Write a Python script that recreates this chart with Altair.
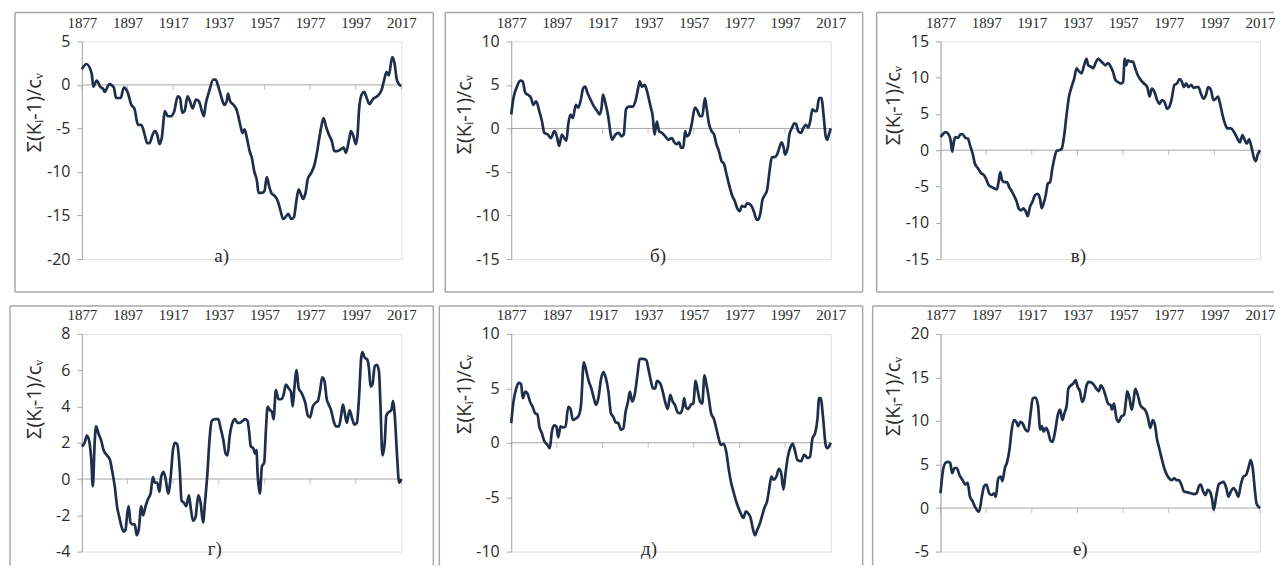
import altair as alt
import pandas as pd

YEAR_TICKS = [1877, 1897, 1917, 1937, 1957, 1977, 1997, 2017]
Y_TITLE = "Σ(Kᵢ-1)/cᵥ"
PANEL_LABELS = ["а)", "б)", "в)", "г)", "д)", "е)"]
Y_DOMAINS = [[-20, 5], [-15, 10], [-15, 15], [-4, 8], [-10, 10], [-5, 20]]
Y_STEPS = [5, 5, 5, 2, 5, 5]

A_YEARS = [1877, 1879, 1881.3, 1882, 1883.5, 1885, 1886.4, 1887, 1889, 1891,
           1892, 1894, 1895.4, 1897, 1898.7, 1900, 1901.6, 1903, 1904.5, 1905.6,
           1906.6, 1908, 1909, 1910, 1911, 1912, 1913.4, 1914.6, 1916, 1917.5,
           1919, 1920, 1921, 1922, 1923.3, 1924.4, 1925.5, 1927, 1928.3, 1929.8,
           1930.5, 1931.2, 1932.7, 1934.6, 1935.6, 1937, 1938, 1939.5, 1940.6, 1941,
           1942, 1943.5, 1945, 1946.4, 1947.4, 1948.3, 1949.3, 1950.5, 1951.5, 1952.5,
           1953.7, 1954.4, 1955.8, 1957, 1958, 1959.2, 1960.2, 1961.3, 1962.8, 1964,
           1965.2, 1966.2, 1967.4, 1968.8, 1969.9, 1971, 1972, 1972.9, 1973.9, 1975,
           1976, 1977.5, 1979, 1980, 1980.8, 1981.9, 1982.9, 1984, 1985.2, 1986.6,
           1987.6, 1989, 1990.5, 1991.7, 1992.7, 1994.2, 1994.9, 1996, 1997, 1997.8,
           1998.5, 1999.6, 2000.7, 2001.8, 2003, 2004.6, 2006.4, 2008.3, 2009.3, 2010.5,
           2011.5, 2013, 2014, 2015, 2016.2, 2017]
A_VALUES = [1.8, 2.4, 1.3, -0.2, 0.5, -0.2, -0.5, -0.8, 0.1, -0.3,
            -1.5, -1.5, -0.3, -0.8, -2.3, -2.7, -4.6, -4.6, -5.7, -6.7,
            -6.7, -5.7, -5.3, -5.7, -6.8, -6.1, -3.0, -3.6, -3.6, -3.0,
            -1.3, -1.5, -3.2, -3.0, -1.3, -1.9, -2.7, -1.7, -1.9, -3.2,
            -3.6, -2.3, -0.8, 0.6, 0.6, -0.4, -1.3, -2.3, -1.7, -1.0,
            -1.9, -2.3, -3.0, -4.6, -5.5, -5.1, -6.1, -7.6, -8.4, -9.9,
            -11.0, -12.4, -12.4, -12.2, -10.6, -11.8, -12.5, -12.7, -13.3, -14.4,
            -15.4, -15.2, -14.8, -15.4, -15.2, -13.3, -12.0, -12.5, -13.1, -12.4,
            -10.8, -10.1, -9.1, -7.8, -6.5, -4.8, -3.8, -4.8, -5.7, -6.5,
            -7.6, -7.6, -7.4, -7.2, -7.8, -6.1, -5.3, -5.9, -6.8, -5.7,
            -2.7, -1.1, -0.8, -1.5, -2.2, -1.6, -1.3, -0.6, 0.4, 1.5,
            1.1, 3.2, 2.5, 0.6, 0.0, -0.1]

B_YEARS = [1877, 1878, 1879.5, 1881, 1882, 1883.2, 1884.7, 1885.7, 1886.7, 1887.9,
           1889.3, 1890.5, 1891.5, 1893, 1894.4, 1895.9, 1897, 1898, 1899.2, 1900.2,
           1901.2, 1902, 1903, 1904, 1905.3, 1906.4, 1907.5, 1908.5, 1909.4, 1910.4,
           1911.8, 1913.3, 1914.7, 1915.7, 1916.6, 1917.2, 1918.3, 1919.5, 1920.5, 1921.2,
           1922.7, 1924.1, 1925.3, 1926.3, 1927.3, 1928.5, 1930.2, 1931.4, 1932.6, 1933.3,
           1934.3, 1935.5, 1936.5, 1937.9, 1939, 1939.8, 1940.8, 1941.8, 1943, 1944.5,
           1945.9, 1947.4, 1948.5, 1949.5, 1950.6, 1951.4, 1952.4, 1953.2, 1953.9, 1954.9,
           1956.1, 1957.5, 1958.7, 1959.7, 1960.7, 1961.9, 1962.6, 1963.6, 1964.8, 1965.9,
           1966.9, 1968, 1969.1, 1970.3, 1971.3, 1972.8, 1973.8, 1974.9, 1976.1, 1977.1,
           1978.1, 1979.3, 1980.4, 1981.5, 1982.5, 1983.4, 1984.4, 1985.1, 1986.3, 1987,
           1988, 1989.1, 1990.2, 1991.2, 1992.3, 1993.5, 1994.5, 1995.5, 1996.4, 1997,
           1998.2, 1998.9, 2000.1, 2001, 2001.8, 2002.8, 2004, 2005.1, 2006.1, 2007.2,
           2008, 2009, 2010, 2010.9, 2011.9, 2012.9, 2014, 2014.8, 2015.5, 2016.2,
           2017]
B_VALUES = [1.6, 3.5, 4.8, 5.5, 5.4, 4.1, 3.8, 3.5, 2.7, 3.1,
            2.0, 0.8, -0.5, -0.7, -1.1, -0.3, -0.9, -2.0, -0.7, -1.1,
            -1.4, 0.5, 1.6, 1.2, 2.7, 2.4, 3.3, 4.6, 4.8, 4.1,
            3.3, 2.5, 2.0, 1.6, 2.4, 3.9, 2.9, 1.4, -0.5, -1.3,
            -0.7, -0.5, -0.9, -0.7, 2.2, 2.5, 2.5, 3.1, 4.6, 5.4,
            4.8, 5.0, 4.3, 2.7, 1.4, -0.7, 0.8, -0.3, -0.5, -0.9,
            -1.3, -1.1, -1.6, -1.8, -1.6, -2.2, -2.2, -0.3, -0.9, -0.7,
            0.5, 2.4, 2.0, 1.4, 1.4, 3.5, 2.4, 0.6, -0.3, -0.7,
            -1.8, -2.6, -3.7, -4.1, -5.2, -6.8, -7.7, -8.3, -9.2, -9.5,
            -8.9, -9.0, -8.6, -8.7, -9.0, -9.6, -10.4, -10.5, -9.6, -8.3,
            -7.7, -7.1, -4.9, -3.3, -3.3, -3.0, -2.2, -1.6, -2.2, -3.0,
            -2.2, -0.7, 0.1, 0.6, 0.5, -0.3, -0.5, 0.1, 0.4, 0.1,
            0.8, 2.2, 2.0, 2.0, 3.5, 3.5, 1.2, -0.9, -1.3, -0.7,
            0.0]

C_YEARS = [1877, 1878, 1879.2, 1880.3, 1881.4, 1882.1, 1882.8, 1883.5, 1884.7, 1885.7,
           1886.7, 1887.9, 1889, 1890, 1891.1, 1892, 1893.4, 1894.9, 1895.9, 1896.9,
           1898.1, 1899.5, 1900.7, 1901.7, 1902.4, 1903.2, 1903.9, 1905.1, 1906.1, 1907.1,
           1908.3, 1909.4, 1910.4, 1911.2, 1912.3, 1913.3, 1914.4, 1915.2, 1916.2, 1917.3,
           1918.4, 1919.6, 1920.6, 1921.3, 1922.1, 1923.1, 1924, 1925, 1926, 1926.9,
           1927.9, 1928.9, 1930.1, 1931.2, 1932.2, 1933.3, 1934.4, 1935.6, 1936.6, 1937.6,
           1938.8, 1939.9, 1941, 1941.7, 1942.9, 1943.9, 1944.9, 1946.1, 1947.2, 1948.2,
           1949.2, 1950.4, 1951.6, 1952.6, 1953.6, 1954.8, 1955.9, 1957, 1957.7, 1958.4,
           1959.1, 1960.3, 1961.3, 1962.3, 1963.5, 1964.7, 1966.1, 1967.6, 1968.6, 1969.6,
           1970.8, 1971.9, 1972.9, 1974, 1975.1, 1976.3, 1977.3, 1978.3, 1979.5, 1980.6,
           1981.7, 1982.7, 1983.6, 1984.6, 1985.6, 1986.8, 1987.9, 1989, 1990, 1991.1,
           1992.3, 1993.3, 1994.3, 1995.5, 1996.6, 1997.6, 1998.6, 1999.5, 2000.6, 2001.6,
           2002.7, 2004.2, 2005.6, 2006.8, 2008.2, 2009.3, 2010.3, 2011.2, 2012.2, 2013.2,
           2014.4, 2015.1, 2016.1, 2017]
C_VALUES = [1.8, 2.2, 2.5, 2.3, 1.4, -0.2, 1.1, 1.8, 1.7, 2.2,
            2.2, 1.7, 1.6, 0.6, -0.5, -1.8, -2.5, -3.2, -3.4, -3.9,
            -4.8, -5.1, -5.3, -5.4, -4.4, -3.0, -4.1, -4.4, -4.4, -5.1,
            -5.7, -6.4, -7.1, -8.0, -8.3, -8.0, -8.5, -9.1, -7.8, -7.1,
            -6.2, -6.0, -6.7, -8.0, -7.4, -6.2, -4.6, -4.4, -2.5, -1.1,
            -0.1, 0.0, 0.2, 2.1, 4.8, 7.4, 8.7, 9.9, 11.3, 10.9,
            10.6, 11.7, 12.6, 11.7, 11.5, 11.3, 12.0, 12.6, 12.3, 12.0,
            11.7, 12.0, 11.5, 10.8, 9.7, 9.4, 9.2, 9.4, 12.6, 11.7,
            12.4, 12.2, 12.2, 11.3, 10.3, 9.7, 9.2, 8.7, 7.4, 8.5,
            8.0, 6.9, 6.4, 6.9, 6.7, 5.7, 6.0, 7.1, 9.0, 9.2,
            9.8, 9.5, 8.7, 9.2, 8.7, 9.0, 8.6, 8.7, 8.7, 7.8,
            7.1, 7.6, 8.7, 8.3, 6.9, 7.1, 7.4, 6.4, 4.8, 3.7,
            3.0, 3.0, 2.5, 1.8, 1.1, 2.1, 1.4, 0.9, 1.5, 0.5,
            -1.1, -1.5, -0.5, 0.0]

D_YEARS = [1877, 1878.2, 1879.2, 1880.2, 1881.1, 1881.8, 1882.6, 1883.2, 1884.3, 1885.5,
           1886.5, 1888, 1889.2, 1890.2, 1891.4, 1892.4, 1893.4, 1894.3, 1895.3, 1896.1,
           1896.9, 1897.5, 1898.3, 1899.3, 1900.2, 1901, 1901.9, 1903, 1903.8, 1904.9,
           1906, 1907.1, 1908.1, 1909, 1910, 1911, 1911.7, 1912.8, 1913.7, 1914.8,
           1915.9, 1916.9, 1917.8, 1918.8, 1919.8, 1920.7, 1921.7, 1922.7, 1923.9, 1924.6,
           1925.7, 1926.8, 1928, 1929, 1930.1, 1931, 1932, 1933, 1933.9, 1935.4,
           1936.8, 1937.8, 1938.9, 1940, 1940.8, 1941.8, 1943, 1944.1, 1945.2, 1946.2,
           1947.4, 1948.5, 1949.6, 1950.3, 1951, 1952.1, 1952.9, 1953.5, 1954, 1955,
           1955.9, 1956.9, 1957.6, 1958.4, 1959.4, 1960.3, 1961, 1962, 1963.2, 1964.2,
           1965.3, 1966.4, 1967.6, 1968.6, 1969.4, 1970.1, 1971.1, 1972, 1973, 1974.1,
           1974.9, 1976, 1977, 1978.2, 1979.3, 1980.4, 1981.4, 1982.3, 1983.3, 1984.3,
           1985.2, 1986.2, 1987.3, 1988.4, 1989.6, 1990.6, 1991.4, 1992.1, 1993.1, 1994.3,
           1995.5, 1996.5, 1997.5, 1998.4, 1999.4, 1999.9, 2000.9, 2002, 2002.8, 2003.5,
           2004.3, 2005.3, 2006.3, 2007.2, 2007.8, 2008.7, 2009.7, 2010.4, 2011.6, 2012.6,
           2013.3, 2014.1, 2015.1, 2016, 2017]
D_VALUES = [1.8, 2.0, 2.4, 2.1, 1.1, -0.4, 2.0, 2.9, 2.5, 2.1,
            1.6, 1.3, 1.1, 0.5, -0.4, -1.5, -2.1, -2.6, -2.9, -2.8,
            -1.9, -1.5, -2.4, -2.5, -2.5, -3.1, -2.8, -1.5, -2.0, -1.5,
            -1.1, -0.8, 0.1, -0.2, -0.2, -0.7, 0.1, 0.4, 0.0, -0.8,
            0.1, 1.6, 2.0, 1.9, 0.7, -1.2, -1.3, -1.5, -0.9, -1.5,
            -2.3, -2.1, -0.9, -1.3, -2.4, -1.2, 0.3, 2.3, 3.2, 3.3,
            3.3, 2.8, 2.2, 1.4, 1.3, 2.4, 3.1, 3.3, 3.1, 3.1,
            3.2, 3.3, 3.2, 2.6, 1.8, 1.7, 1.4, 1.6, 0.3, -0.8,
            0.7, 0.9, 2.6, 4.0, 3.8, 3.7, 3.3, 4.9, 4.4, 4.4,
            4.6, 5.2, 5.0, 4.8, 4.0, 5.0, 6.0, 5.0, 4.8, 4.5,
            4.2, 3.5, 3.4, 4.0, 4.2, 4.3, 4.9, 5.6, 5.4, 4.4,
            4.1, 3.8, 3.2, 2.9, 2.9, 3.5, 4.1, 3.7, 3.1, 3.8,
            3.3, 3.0, 3.1, 4.4, 6.7, 7.0, 6.7, 6.6, 6.1, 5.1,
            5.2, 6.2, 6.3, 5.9, 4.2, 1.3, 2.0, 3.5, 3.7, 3.8,
            4.3, 3.5, 1.3, -0.2, 0.0]

E_YEARS = [1877, 1878, 1879.2, 1880.3, 1881.3, 1882.1, 1883.2, 1884.2, 1885.2, 1886.4,
           1887.5, 1888.5, 1889.3, 1890.4, 1891.4, 1892.9, 1893.9, 1894.8, 1895.8, 1896.8,
           1897.6, 1898.6, 1899.7, 1900.8, 1902, 1903, 1904, 1905.1, 1906.6, 1907.6,
           1908.8, 1909.8, 1910.9, 1912.1, 1913.1, 1914.1, 1915.2, 1916.4, 1917.4, 1918.4,
           1919.6, 1920.7, 1921.7, 1922.7, 1923.9, 1925.1, 1926.1, 1927.1, 1928.2, 1929,
           1930, 1931.1, 1932.3, 1933.3, 1934.7, 1936.2, 1937.2, 1938.3, 1939.1, 1940.1,
           1940.9, 1942.4, 1943.4, 1944.4, 1945.6, 1946.7, 1947.7, 1948.7, 1949.9, 1951,
           1952, 1952.8, 1953.5, 1954.5, 1955.7, 1956.8, 1957.8, 1958.8, 1959.7, 1960.7,
           1961.7, 1962.6, 1963.6, 1964.6, 1965.8, 1966.9, 1967.9, 1968.9, 1970.1, 1971.2,
           1972.3, 1973.3, 1974.4, 1975.6, 1976.6, 1977.6, 1978.7, 1979.9, 1980.9, 1981.9,
           1982.8, 1983.8, 1984.8, 1986, 1987.1, 1988.1, 1989.1, 1990, 1991, 1992,
           1993.2, 1994.3, 1995.3, 1996.3, 1997.2, 1998.2, 1999.2, 2000.4, 2001.4, 2002.5,
           2004, 2005.4, 2006.9, 2007.9, 2009, 2010.2, 2011.2, 2011.9, 2012.6, 2013.7,
           2014.8, 2015.5, 2017]
E_VALUES = [1.8, 3.8, 5.0, 5.5, 5.4, 4.1, 4.7, 4.5, 3.8, 3.3,
            2.7, 2.6, 1.5, 0.9, 0.2, -0.2, -0.5, 1.0, 1.6, 1.5,
            0.5, 1.5, 1.4, 1.5, 3.3, 3.1, 2.1, 2.2, 2.5, 3.5,
            7.4, 6.7, 5.7, 5.0, 4.2, 3.5, 4.1, 5.9, 6.5, 6.0,
            4.7, 2.7, 2.4, 1.9, 1.8, 1.2, 1.3, 2.8, 3.8, 4.7,
            3.8, 4.4, 6.2, 7.7, 7.7, 7.6, 6.7, 5.6, 5.0, 5.0,
            5.7, 5.4, 4.7, 3.8, 3.1, 4.4, 3.8, 3.5, 2.8, 2.7,
            3.1, 4.1, 3.3, 3.1, 3.5, 3.6, 5.7, 4.7, 3.8, 3.6,
            6.2, 5.3, 4.1, 2.7, 2.2, 1.3, 0.4, -0.2, -0.1, -0.8,
            -2.4, -3.6, -4.5, -5.4, -6.0, -6.5, -6.9, -6.3, -6.5, -6.9,
            -7.8, -8.5, -8.0, -7.4, -6.6, -5.9, -5.4, -4.3, -3.1, -3.4,
            -3.1, -2.4, -2.8, -4.3, -2.8, -1.3, -0.5, -0.1, -0.8, -1.6,
            -1.7, -1.1, -1.4, -1.3, 0.4, 0.9, 2.2, 4.1, 4.1, 2.2,
            -0.2, -0.5, 0.0]

F_YEARS = [1877, 1878, 1879.2, 1880.2, 1881.2, 1882.1, 1883.1, 1884.1, 1885.3, 1886.7,
           1887.9, 1888.9, 1889.9, 1891, 1892.2, 1893.2, 1893.9, 1895.1, 1896.1, 1897.1,
           1898.3, 1899.4, 1900.5, 1901.2, 1902.3, 1903.4, 1904.1, 1905.2, 1906.2, 1907.3,
           1908.1, 1909.1, 1910.2, 1911, 1912, 1913, 1914.2, 1915.4, 1916.4, 1917.4,
           1918.6, 1919.7, 1920.7, 1921.4, 1922.2, 1923.2, 1924.1, 1925.1, 1926.1, 1927.2,
           1928.4, 1929.4, 1930.4, 1931.3, 1932.3, 1933, 1934.2, 1935.2, 1936.2, 1937.1,
           1938.1, 1939.1, 1939.9, 1941, 1942, 1943.2, 1944.3, 1945.3, 1946.4, 1947.2,
           1948.3, 1949.2, 1950.4, 1951.6, 1952.1, 1953, 1954.1, 1955.1, 1956.2, 1957.4,
           1958.4, 1958.8, 1959.8, 1960.8, 1961.7, 1962.3, 1963.4, 1964.6, 1965.6, 1966.6,
           1967.8, 1968.9, 1970, 1971, 1971.8, 1972.8, 1973.9, 1975, 1976.2, 1977.2,
           1978.2, 1979.4, 1980.5, 1981.5, 1982.5, 1983.7, 1985.2, 1986.6, 1988, 1989.2,
           1990.2, 1991, 1992.1, 1993.1, 1994.1, 1995, 1996, 1996.7, 1997.9, 1998.9,
           1999.9, 2001, 2002.2, 2003.2, 2004.2, 2005.4, 2006.5, 2007.5, 2008.6, 2009.7,
           2010.9, 2011.9, 2012.9, 2013.8, 2014.8, 2015.5, 2017]
F_VALUES = [1.7, 4.2, 5.2, 5.3, 5.2, 4.0, 4.6, 4.6, 3.8, 3.2,
            2.7, 2.9, 1.3, 0.8, 0.1, -0.3, -0.4, 1.3, 2.5, 2.7,
            1.7, 1.5, 1.7, 1.3, 3.4, 3.6, 3.1, 4.6, 5.3, 6.9,
            8.8, 10.1, 9.9, 9.4, 9.9, 9.7, 9.0, 8.8, 10.7, 12.6,
            12.7, 11.8, 9.0, 9.4, 8.8, 9.2, 8.8, 7.8, 7.6, 8.8,
            10.7, 11.3, 10.1, 10.9, 11.8, 13.7, 14.1, 14.3, 14.7, 13.9,
            13.4, 12.2, 12.6, 14.1, 14.5, 14.4, 14.1, 13.7, 13.4, 14.1,
            13.7, 13.0, 12.0, 11.8, 11.3, 12.0, 10.3, 9.9, 10.5, 10.7,
            12.6, 13.4, 12.6, 11.3, 12.6, 13.7, 13.0, 11.8, 11.5, 11.3,
            10.5, 9.2, 10.1, 9.5, 8.0, 6.9, 5.7, 4.6, 3.8, 3.4,
            3.2, 3.4, 3.2, 3.2, 2.7, 1.9, 1.8, 1.7, 1.6, 1.7,
            2.5, 2.7, 1.9, 1.5, 2.1, 1.9, 1.0, -0.2, 1.5, 2.7,
            2.9, 3.0, 2.3, 1.3, 1.9, 2.3, 1.9, 1.3, 2.7, 3.6,
            3.8, 4.6, 5.5, 4.6, 1.9, 0.5, 0.0]

SERIES = [(A_YEARS, A_VALUES), (B_YEARS, B_VALUES), (C_YEARS, C_VALUES),
          (D_YEARS, D_VALUES), (E_YEARS, E_VALUES), (F_YEARS, F_VALUES)]

W = 320
H = 218
LINE_COLOR = "#1e2e4b"
GRAY = "#a6a6a6"
BOX = "#a9a9a9"
TEXT = "#2b2b2b"

# layout tweaks per panel: box left offset, caption x, title y
BOX_LEFT = [-67, -66, -64, -72, -72, -68]
CAP_X = [140, 147, 138, 133, 138, 140]
TITLE_Y = [71, 73, 64, 65, 60, 62]

one = pd.DataFrame({"k": [0]})
ticks_df = pd.DataFrame({"year": YEAR_TICKS})


def rule_h(x1, x2, y):
    return alt.Chart(one).mark_rule(color=BOX, strokeWidth=1.5).encode(
        x=alt.value(x1), x2=alt.value(x2), y=alt.value(y))


def rule_v(x, y1, y2):
    return alt.Chart(one).mark_rule(color=BOX, strokeWidth=1.5).encode(
        x=alt.value(x), y=alt.value(y1), y2=alt.value(y2))


def panel(i):
    years, values = SERIES[i]
    n = min(len(years), len(values))
    df = pd.DataFrame({"year": years[:n], "value": values[:n]})
    lo, hi = Y_DOMAINS[i]
    step = Y_STEPS[i]
    yvals = list(range(lo, hi + 1, step))
    row2 = i >= 3
    last_col = i % 3 == 2

    xs = alt.Scale(domain=[1877, 2017], nice=False, zero=False)
    ys = alt.Scale(domain=[lo, hi], nice=False, zero=False)
    xa = alt.Axis(orient="top", values=YEAR_TICKS, format="d", domain=False,
                  ticks=False, tickSize=0, labelPadding=11, grid=False,
                  labelFont="Liberation Serif", labelFontSize=15,
                  labelColor=TEXT, labelFlush=False, labelOverlap=False,
                  title=None)
    ya = alt.Axis(values=yvals, grid=False, domainColor=GRAY, domainWidth=1,
                  tickColor=GRAY, tickSize=5, labelPadding=7,
                  labelFont="Open Sans", labelFontSize=16, labelColor=TEXT,
                  labelExpr="'' + datum.value",
                  title=Y_TITLE, titleFont="Open Sans", titleFontSize=20,
                  titleFontWeight="normal", titleColor=TEXT,
                  titleAngle=270, titleAlign="center", titleBaseline="middle",
                  titleX=-47, titleY=TITLE_Y[i])

    line = alt.Chart(df).mark_line(color=LINE_COLOR, strokeWidth=2.7,
                                   interpolate="monotone").encode(
        x=alt.X("year:Q", scale=xs, axis=xa),
        y=alt.Y("value:Q", scale=ys, axis=ya))
    zero = alt.Chart(one).mark_rule(color=GRAY, strokeWidth=1).encode(
        y=alt.YDatum(0, scale=ys, axis=ya))
    tks = alt.Chart(ticks_df).mark_tick(orient="vertical", size=5, thickness=1,
                                        color=GRAY, yOffset=2.5).encode(
        x=alt.X("year:Q", scale=xs, axis=xa),
        y=alt.YDatum(0, scale=ys, axis=ya))
    cap = alt.Chart(one).mark_text(text=PANEL_LABELS[i], font="Liberation Serif",
                                   fontSize=19, color=TEXT,
                                   baseline="middle", align="center").encode(
        x=alt.value(CAP_X[i]), y=alt.value(H - 3))

    left = BOX_LEFT[i]
    right = W + 14 if last_col else W + 32
    top = -28 if row2 else -29
    bottom = H + 14 if row2 else H + 33
    parts = [rule_h(left, right, top), rule_v(left, top, bottom)]
    if not last_col:
        parts.append(rule_v(right, top, bottom))
    if not row2:
        parts.append(rule_h(left, right, bottom))

    return alt.layer(*parts, zero, tks, line, cap).properties(width=W, height=H)


chart = alt.concat(*[panel(i) for i in range(6)], columns=3,
                   spacing={"row": 75, "column": 110}, bounds="flush").properties(
    padding={"left": 0, "top": 2, "right": 0, "bottom": 0}
).configure_view(strokeWidth=0).configure(background="white")

chart.save("out.html", embed_options={"renderer": "svg", "actions": False})
